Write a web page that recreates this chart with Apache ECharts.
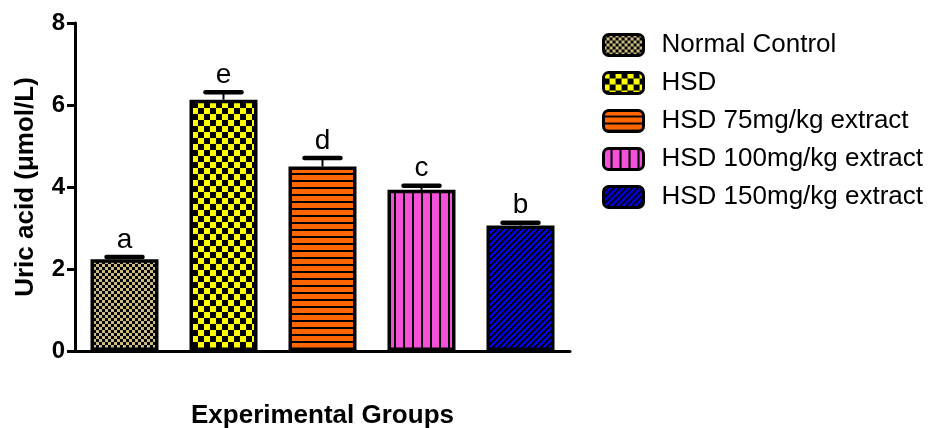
<!DOCTYPE html>
<html>
<head>
<meta charset="utf-8">
<script src="https://cdn.jsdelivr.net/npm/echarts@6/dist/echarts.min.js"></script>
<style>
  html, body { margin: 0; padding: 0; background: #ffffff; }
  #chart { width: 933px; height: 428px; }
</style>
</head>
<body>
<div id="chart"></div>
<script>
// Group names, mean uric acid, error (SEM) and significance letters
const groups = ['Normal Control', 'HSD', 'HSD 75mg/kg extract', 'HSD 100mg/kg extract', 'HSD 150mg/kg extract'];
const uricAcid = [2.24, 6.13, 4.50, 3.93, 3.06];
const errors = [0.05, 0.18, 0.21, 0.10, 0.07];
const letters = ['a', 'e', 'd', 'c', 'b'];
const yTicks = [0, 2, 4, 6, 8];

const FONT = '"Liberation Sans", Arial, sans-serif';

// Fill textures for each bar
function tile(w, h, draw) {
  const c = document.createElement('canvas');
  c.width = w; c.height = h;
  draw(c.getContext('2d'), w, h);
  return { image: c, repeat: 'repeat' };
}
const fills = [
  tile(6, 6, (g) => {             // fine tan checker
    g.fillStyle = '#000'; g.fillRect(0, 0, 6, 6);
    g.fillStyle = '#cbbb7c'; g.fillRect(0, 0, 3, 3); g.fillRect(3, 3, 3, 3);
  }),
  tile(12, 12, (g) => {           // coarse yellow/black checker
    g.fillStyle = '#000'; g.fillRect(0, 0, 12, 12);
    g.fillStyle = '#ffff00'; g.fillRect(0, 0, 6, 6); g.fillRect(6, 6, 6, 6);
  }),
  tile(4, 7, (g) => {             // orange, horizontal lines
    g.fillStyle = '#ff6600'; g.fillRect(0, 0, 4, 7);
    g.fillStyle = '#000'; g.fillRect(0, 5, 4, 2);
  }),
  tile(9, 4, (g) => {             // pink, vertical lines
    g.fillStyle = '#f550d8'; g.fillRect(0, 0, 9, 4);
    g.fillStyle = '#000'; g.fillRect(7, 0, 2, 4);
  }),
  tile(6, 6, (g) => {             // blue, diagonal hatching
    g.fillStyle = '#0000ff'; g.fillRect(0, 0, 6, 6);
    g.strokeStyle = '#000'; g.lineWidth = 2;
    g.beginPath();
    g.moveTo(0, 6); g.lineTo(6, 0);
    g.moveTo(-1, 1); g.lineTo(1, -1);
    g.moveTo(5, 7); g.lineTo(7, 5);
    g.stroke();
  })
];

const barSeries = groups.map((name, i) => ({
  name: name,
  type: 'bar',
  barWidth: 68,
  barGap: '-100%',
  data: uricAcid.map((v, j) => (j === i ? v : null)),
  itemStyle: { color: fills[i], borderColor: '#000', borderWidth: 3.5 },
  z: 2
}));

// Error bars with significance letters on top
const errorSeries = {
  type: 'custom',
  z: 3,
  silent: true,
  data: uricAcid.map((v, i) => [i, v, errors[i]]),
  renderItem: function (params, api) {
    const i = api.value(0);
    const v = api.value(1);
    const e = api.value(2);
    const base = api.coord([i, v]);
    const top = api.coord([i, v + e]);
    return {
      type: 'group',
      children: [
        { type: 'line', shape: { x1: base[0], y1: base[1], x2: top[0], y2: top[1] },
          style: { stroke: '#000', lineWidth: 2 } },
        { type: 'line', shape: { x1: top[0] - 18, y1: top[1], x2: top[0] + 18, y2: top[1] },
          style: { stroke: '#000', lineWidth: 4.5, lineCap: 'round' } },
        { type: 'text', x: top[0], y: top[1] - 3,
          style: { text: letters[params.dataIndex], fill: '#000', font: '28px ' + FONT,
                   align: 'center', verticalAlign: 'bottom' } }
      ]
    };
  }
};

const chart = echarts.init(document.getElementById('chart'), null, { renderer: 'canvas' });
chart.setOption({
  animation: false,
  backgroundColor: '#ffffff',
  grid: { left: 75, right: 363, top: 23, bottom: 77, containLabel: false, outerBoundsMode: 'none' },
  legend: {
    data: groups,
    orient: 'vertical',
    left: 602,
    top: 32,
    padding: 0,
    itemWidth: 40,
    itemHeight: 21,
    itemGap: 12,
    icon: 'roundRect',
    itemStyle: { borderColor: '#000', borderWidth: 3 },
    textStyle: { fontFamily: FONT, fontSize: 26, color: '#000', lineHeight: 26, padding: [0, 0, 0, 13] }
  },
  xAxis: {
    type: 'category',
    data: groups,
    name: 'Experimental Groups',
    nameLocation: 'middle',
    nameGap: 52,
    nameTextStyle: { fontFamily: FONT, fontSize: 26, fontWeight: 'bold', color: '#000' },
    axisLine: { lineStyle: { color: '#000', width: 3 } },
    axisTick: { alignWithLabel: true, interval: (idx) => idx === 2, length: 11, lineStyle: { color: '#000', width: 3 } },
    axisLabel: { show: false },
    splitLine: { show: false }
  },
  yAxis: {
    type: 'value',
    min: yTicks[0],
    max: yTicks[yTicks.length - 1],
    interval: 2,
    name: 'Uric acid (μmol/L)',
    nameLocation: 'middle',
    nameGap: 36,
    nameTextStyle: { fontFamily: FONT, fontSize: 26, fontWeight: 'bold', color: '#000' },
    axisLine: { show: true, lineStyle: { color: '#000', width: 3 } },
    axisTick: { show: true, length: 8, lineStyle: { color: '#000', width: 3 } },
    axisLabel: { fontFamily: FONT, fontSize: 24, fontWeight: 'bold', color: '#000', margin: 10 },
    splitLine: { show: false }
  },
  series: barSeries.concat([errorSeries])
});
</script>
</body>
</html>
